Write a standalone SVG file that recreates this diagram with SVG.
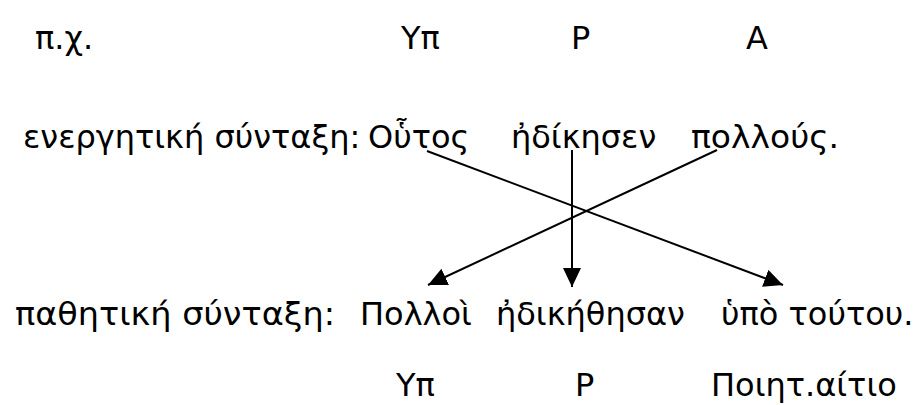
<svg xmlns="http://www.w3.org/2000/svg" width="918" height="405" viewBox="0 0 918 405">
  <style>
    text { font-family: "DejaVu Sans", "Noto Sans", sans-serif; font-size: 32px; fill: #000; }
    .conn { stroke: #000; stroke-width: 2; fill: none; }
  </style>
  <defs>
    <marker id="arrow" markerUnits="userSpaceOnUse" markerWidth="20" markerHeight="19" refX="19" refY="9" orient="auto">
      <path d="M0,0 L19,9 L0,18 z" fill="#000"/>
    </marker>
  </defs>
  <rect width="918" height="405" fill="#fff"/>
  <g id="row1">
    <text x="35" y="49">π.χ.</text>
    <text x="401" y="49">Υπ</text>
    <text x="571" y="49">P</text>
    <text x="746" y="49">A</text>
  </g>
  <g id="active">
    <text x="23" y="148">ενεργητική σύνταξη:</text>
    <text id="n-outos" x="368" y="148">Οὗτος</text>
    <text id="n-edikesen" x="511" y="148">ἠδίκησεν</text>
    <text id="n-pollous" x="691" y="148" textLength="148" lengthAdjust="spacingAndGlyphs">πολλούς.</text>
  </g>
  <g id="passive">
    <text x="15" y="325" textLength="320" lengthAdjust="spacingAndGlyphs">παθητική σύνταξη:</text>
    <text id="n-polloi" x="360" y="325">Πολλοὶ</text>
    <text id="n-edikethesan" x="496" y="325">ἠδικήθησαν</text>
    <text id="n-hypo" x="721" y="325">ὑπὸ τούτου.</text>
  </g>
  <g id="row4">
    <text x="396" y="396">Υπ</text>
    <text x="575" y="396">P</text>
    <text x="711" y="396">Ποιητ.αίτιο</text>
  </g>
  <g id="connectors">
    <line class="conn" x1="427" y1="151" x2="783" y2="285" marker-end="url(#arrow)"/>
    <line class="conn" x1="572" y1="150" x2="572" y2="287" marker-end="url(#arrow)"/>
    <line class="conn" x1="717" y1="150" x2="428" y2="285" marker-end="url(#arrow)"/>
  </g>
</svg>
